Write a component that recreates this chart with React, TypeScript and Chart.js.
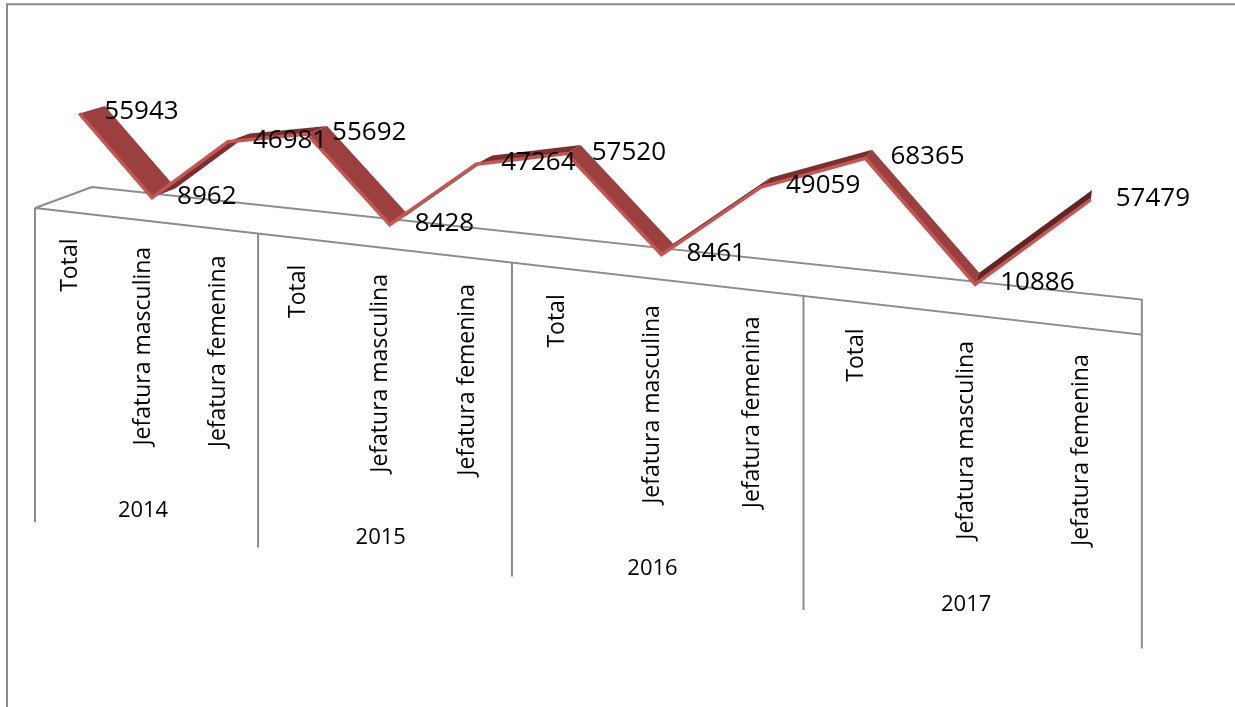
import React, { useEffect, useRef } from "react";
import { Chart, registerables } from "chart.js";

Chart.register(...registerables);

// ---------- data ----------
const years = ["2014", "2015", "2016", "2017"];
const categories = [
  "Total", "Jefatura masculina", "Jefatura femenina",
  "Total", "Jefatura masculina", "Jefatura femenina",
  "Total", "Jefatura masculina", "Jefatura femenina",
  "Total", "Jefatura masculina", "Jefatura femenina",
];
const values = [55943, 8962, 46981, 55692, 8428, 47264, 57520, 8461, 49059, 68365, 10886, 57479];
const valueMin = 0;
const valueMax = 70000;

// ---------- 3D view (perspective) parameters ----------
const PA = 829.6, PB = 35, PC = -0.2428;
const FLOOR_Y0 = 208, FLOOR_SLOPE = 0.1144;
const RIB_DX = 9, RIB_DY = -9, RISE = 112.25;
const VP = { x: 1145, y: -201 };
const RIB_DEPTH = 0.024;
const LABEL_FONT = "'Open Sans', 'Noto Sans', sans-serif";

const wOf = (t: number) => 1 + PC * t;
const floorX = (t: number) => (PA * t + PB) / wOf(t);
const floorY = (x: number) => FLOOR_Y0 + FLOOR_SLOPE * (x - PB);
const ribbonFront = (t: number, q: number) => {
  const x = floorX(t) + RIB_DX;
  const y = floorY(x) + RIB_DY - (q * RISE) / wOf(t);
  return { x, y };
};
const ribbonBack = (p: { x: number; y: number }) => ({
  x: p.x + RIB_DEPTH * (VP.x - p.x),
  y: p.y + RIB_DEPTH * (VP.y - p.y),
});

export default function App() {
  const ref = useRef<HTMLCanvasElement>(null);

  useEffect(() => {
    const canvas = ref.current!;

    const view3d = {
      id: "view3d",
      beforeDraw(chart: any) {
        const ctx = chart.ctx;
        ctx.save();
        ctx.fillStyle = "#ffffff";
        ctx.fillRect(0, 0, chart.width, chart.height);
        ctx.strokeStyle = "#8a8a8a";
        ctx.lineWidth = 2;
        ctx.beginPath();
        ctx.moveTo(7, chart.height);
        ctx.lineTo(7, 4.3);
        ctx.lineTo(chart.width, 4.3);
        ctx.stroke();
        ctx.restore();
      },
      afterDatasetsUpdate(chart: any) {
        const xs = chart.scales.x;
        const ys = chart.scales.y;
        const meta = chart.getDatasetMeta(0);
        meta.data.forEach((p: any) => {
          const t = (p.x - xs.left) / (xs.right - xs.left);
          const q = (ys.bottom - p.y) / (ys.bottom - ys.top);
          const r = ribbonFront(t, q);
          p.x = r.x;
          p.y = r.y;
        });
      },
      beforeDatasetsDraw(chart: any) {
        const ctx = chart.ctx;
        ctx.save();
        // floor / category axis box
        ctx.strokeStyle = "#8c8c8c";
        ctx.lineWidth = 2;
        const fl = { x: floorX(0), y: floorY(floorX(0)) };
        const fr = { x: floorX(1), y: floorY(floorX(1)) };
        const bl = { x: fl.x + 57, y: fl.y - 21 };
        const br = { x: fr.x, y: fr.y - 35 };
        ctx.beginPath();
        ctx.moveTo(fl.x, fl.y);
        ctx.lineTo(bl.x, bl.y);
        ctx.lineTo(br.x, br.y);
        ctx.lineTo(fr.x, fr.y);
        ctx.lineTo(fl.x, fl.y);
        ctx.stroke();
        for (let g = 0; g <= years.length; g++) {
          const t = g / years.length;
          const x = floorX(t);
          const y = floorY(x);
          ctx.beginPath();
          ctx.moveTo(x, y);
          ctx.lineTo(x, y + 314);
          ctx.stroke();
        }
        // ribbon top faces
        const pts = chart.getDatasetMeta(0).data;
        for (let i = 0; i < pts.length - 1; i++) {
          const f0 = { x: pts[i].x, y: pts[i].y };
          const f1 = { x: pts[i + 1].x, y: pts[i + 1].y };
          const b0 = ribbonBack(f0);
          const b1 = ribbonBack(f1);
          const rising = f1.y < f0.y;
          ctx.fillStyle = rising ? (f0.y - f1.y > 60 ? "#5f2624" : "#7c2f2d") : "#9b403e";
          ctx.beginPath();
          ctx.moveTo(f0.x, f0.y);
          ctx.lineTo(f1.x, f1.y);
          ctx.lineTo(b1.x, b1.y);
          ctx.lineTo(b0.x, b0.y);
          ctx.closePath();
          ctx.fill();
        }
        ctx.restore();
      },
      afterDatasetsDraw(chart: any) {
        const ctx = chart.ctx;
        const xs = chart.scales.x;
        const n = categories.length;
        ctx.save();
        ctx.fillStyle = "#000000";
        // category labels (rotated)
        ctx.font = `23px ${LABEL_FONT}`;
        categories.forEach((c, i) => {
          const t = (xs.getPixelForValue(i) - xs.left) / (xs.right - xs.left);
          const x = floorX(t);
          const y = floorY(x) + 26.5;
          ctx.save();
          ctx.translate(x, y);
          ctx.rotate(-Math.PI / 2);
          ctx.textAlign = "right";
          ctx.textBaseline = "middle";
          ctx.fillText(c, 0, 0);
          ctx.restore();
        });
        // year labels
        ctx.font = `22px ${LABEL_FONT}`;
        ctx.textAlign = "center";
        ctx.textBaseline = "alphabetic";
        const per = n / years.length;
        years.forEach((yr, g) => {
          const t = (g * per + per / 2) / n;
          const x = floorX(t);
          const y = floorY(x) + 288.5 + 7.9;
          ctx.fillText(yr, x, y);
        });
        // data labels
        ctx.font = `26px ${LABEL_FONT}`;
        ctx.textAlign = "left";
        const pts = chart.getDatasetMeta(0).data;
        pts.forEach((p: any, i: number) => {
          ctx.fillText(String(values[i]), p.x + 25, p.y + 6);
        });
        ctx.restore();
      },
    };

    const chart = new Chart(canvas, {
      type: "line",
      data: {
        labels: categories,
        datasets: [
          {
            label: "Hogares",
            data: values,
            borderColor: "#c65653",
            borderWidth: 3.5,
            pointRadius: 0,
            tension: 0,
            fill: false,
          },
        ],
      },
      options: {
        animation: false,
        responsive: false,
        layout: { padding: 0 },
        plugins: { legend: { display: false }, tooltip: { enabled: false } },
        scales: {
          x: { type: "category", offset: true, display: false },
          y: { min: valueMin, max: valueMax, display: false },
        },
      },
      plugins: [view3d],
    });
    return () => chart.destroy();
  }, []);

  return (
    <div style={{ position: "absolute", left: 0, top: 0, width: 1235, height: 707 }}>
      <canvas ref={ref} width={1235} height={707} style={{ display: "block" }} />
    </div>
  );
}
